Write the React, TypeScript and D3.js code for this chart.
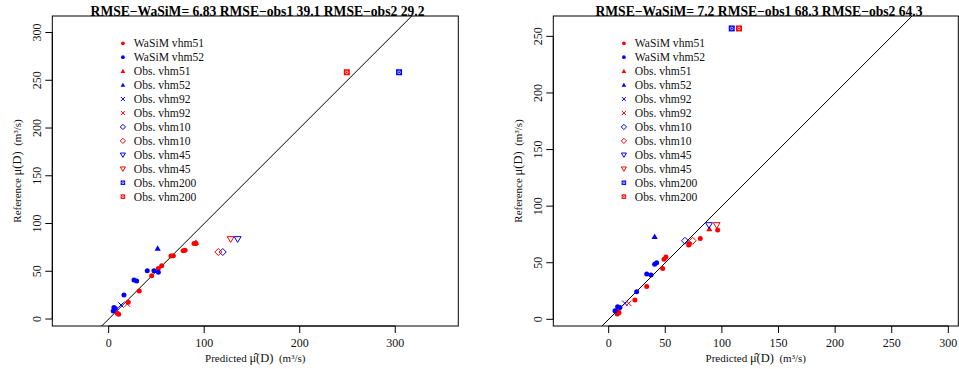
import React from 'react';
import * as d3 from 'd3';

// ---------- DATA ----------
const titles = [
  'RMSE\u2212WaSiM= 6.83 RMSE\u2212obs1 39.1 RMSE\u2212obs2 29.2',
  'RMSE\u2212WaSiM= 7.2 RMSE\u2212obs1 68.3 RMSE\u2212obs2 64.3',
];

const legendLabels = [
  'WaSiM vhm51', 'WaSiM vhm52', 'Obs. vhm51', 'Obs. vhm52', 'Obs. vhm92', 'Obs. vhm92',
  'Obs. vhm10', 'Obs. vhm10', 'Obs. vhm45', 'Obs. vhm45', 'Obs. vhm200', 'Obs. vhm200',
];
const legendShapes = [
  'circle', 'circle', 'triUp', 'triUp', 'cross', 'cross',
  'diamond', 'diamond', 'triDown', 'triDown', 'square', 'square',
];
const legendColors = [
  'red', 'blue', 'red', 'blue', 'blue', 'red', 'blue', 'red', 'blue', 'red', 'blue', 'red',
];

const leftXTicks = [0, 100, 200, 300];
const leftYTicks = [0, 50, 100, 150, 200, 250, 300];
const rightXTicks = [0, 50, 100, 150, 200, 250, 300];
const rightYTicks = [0, 50, 100, 150, 200, 250];

// Left panel series [predicted, reference]
const wasim51Left: [number, number][] = [
  [9, 6], [10.5, 5], [20.5, 17.5], [32, 29.3], [45, 45.4], [52, 53], [55.5, 55.8],
  [65.2, 66], [67.7, 66.3], [78, 71.5], [80, 72], [89.3, 79.2], [91.4, 79.2],
];
const wasim52Left: [number, number][] = [
  [4.8, 8.4], [5.5, 12.2], [7, 11], [16, 25.1], [26.5, 40.8], [29.3, 39.8],
  [40.4, 50.6], [47.4, 50.6], [52, 48.9],
];
const obs51Left: [number, number][] = [[91.4, 80.3]];
const obs52Left: [number, number][] = [[51.3, 74]];
const obs92BlueLeft: [number, number][] = [[12.9, 14.7]];
const obs92RedLeft: [number, number][] = [[19.5, 15.7]];
const obs10BlueLeft: [number, number][] = [[119.4, 70.2]];
const obs10RedLeft: [number, number][] = [[114.8, 70.2]];
const obs45BlueLeft: [number, number][] = [[135, 83.8]];
const obs45RedLeft: [number, number][] = [[127.7, 83.8]];
const obs200BlueLeft: [number, number][] = [[304, 258.4]];
const obs200RedLeft: [number, number][] = [[249.3, 258.4]];

// Right panel series
const wasim51Right: [number, number][] = [
  [7.6, 4.7], [9.1, 5.9], [8.5, 7], [23.2, 17], [33.6, 29.1], [47.7, 45], [48.9, 53],
  [50.6, 55], [70.7, 65.6], [71.3, 66.7], [80.9, 71.5], [96.3, 78.9],
];
const wasim52Right: [number, number][] = [
  [5.6, 7.6], [7.9, 11.1], [10, 10.5], [24.7, 24.4], [33.6, 40], [37.4, 39.1],
  [40.6, 48.6], [42.4, 50],
];
const obs51Right: [number, number][] = [[88.9, 79.8]];
const obs52Right: [number, number][] = [[40.6, 73]];
const obs92BlueRight: [number, number][] = [[14.4, 14.1]];
const obs92RedRight: [number, number][] = [[17.7, 14.1]];
const obs10BlueRight: [number, number][] = [[67.4, 69.4]];
const obs10RedRight: [number, number][] = [[74.2, 69.4]];
const obs45BlueRight: [number, number][] = [[88.6, 83.3]];
const obs45RedRight: [number, number][] = [[95.4, 83.3]];
const obs200BlueRight: [number, number][] = [[108.7, 257]];
const obs200RedRight: [number, number][] = [[115.1, 257]];

type Series = { pts: [number, number][]; shape: string; color: string };

const leftSeries: Series[] = [
  { pts: wasim51Left, shape: 'circle', color: 'red' },
  { pts: wasim52Left, shape: 'circle', color: 'blue' },
  { pts: obs51Left, shape: 'triUp', color: 'red' },
  { pts: obs52Left, shape: 'triUp', color: 'blue' },
  { pts: obs92BlueLeft, shape: 'cross', color: 'blue' },
  { pts: obs92RedLeft, shape: 'cross', color: 'red' },
  { pts: obs10BlueLeft, shape: 'diamond', color: 'blue' },
  { pts: obs10RedLeft, shape: 'diamond', color: 'red' },
  { pts: obs45BlueLeft, shape: 'triDown', color: 'blue' },
  { pts: obs45RedLeft, shape: 'triDown', color: 'red' },
  { pts: obs200BlueLeft, shape: 'square', color: 'blue' },
  { pts: obs200RedLeft, shape: 'square', color: 'red' },
];
const rightSeries: Series[] = [
  { pts: wasim51Right, shape: 'circle', color: 'red' },
  { pts: wasim52Right, shape: 'circle', color: 'blue' },
  { pts: obs51Right, shape: 'triUp', color: 'red' },
  { pts: obs52Right, shape: 'triUp', color: 'blue' },
  { pts: obs92BlueRight, shape: 'cross', color: 'blue' },
  { pts: obs92RedRight, shape: 'cross', color: 'red' },
  { pts: obs10BlueRight, shape: 'diamond', color: 'blue' },
  { pts: obs10RedRight, shape: 'diamond', color: 'red' },
  { pts: obs45BlueRight, shape: 'triDown', color: 'blue' },
  { pts: obs45RedRight, shape: 'triDown', color: 'red' },
  { pts: obs200BlueRight, shape: 'square', color: 'blue' },
  { pts: obs200RedRight, shape: 'square', color: 'red' },
];

const FONT = '"Liberation Serif", "DejaVu Serif", serif';

function Marker({ shape, color, x, y, k }: { shape: string; color: string; x: number; y: number; k: number }) {
  switch (shape) {
    case 'circle':
      return <circle cx={x} cy={y} r={2.5 * k} fill={color} />;
    case 'triUp': {
      const a = 3.1 * k;
      return <path d={`M${x},${y - a}L${x + a},${y + a * 0.75}L${x - a},${y + a * 0.75}Z`} fill={color} />;
    }
    case 'triDown': {
      const a = 3.4 * k;
      return (
        <path d={`M${x - a},${y - a * 0.7}L${x + a},${y - a * 0.7}L${x},${y + a}Z`}
          fill="none" stroke={color} strokeWidth={1} />
      );
    }
    case 'cross': {
      const a = 2.7 * k;
      return (
        <path d={`M${x - a},${y - a}L${x + a},${y + a}M${x - a},${y + a}L${x + a},${y - a}`}
          stroke={color} strokeWidth={1} fill="none" />
      );
    }
    case 'diamond': {
      const a = 3.5 * k;
      return (
        <path d={`M${x},${y - a}L${x + a},${y}L${x},${y + a}L${x - a},${y}Z`}
          fill="none" stroke={color} strokeWidth={1} />
      );
    }
    case 'square': {
      const a = 3 * k;
      return (
        <g>
          <rect x={x - a} y={y - a} width={2 * a} height={2 * a} fill={color} />
          <circle cx={x} cy={y} r={a * 0.45} fill="none" stroke="white" strokeWidth={0.7} />
        </g>
      );
    }
    default:
      return null;
  }
}

function Panel({
  box, xDomain, yDomain, xTicks, yTicks, series, title, titleX,
}: {
  box: { x0: number; x1: number; y0: number; y1: number };
  xDomain: [number, number]; yDomain: [number, number];
  xTicks: number[]; yTicks: number[]; series: Series[]; title: string; titleX: number;
}) {
  const xs = d3.scaleLinear().domain(xDomain).range([box.x0, box.x1]);
  const ys = d3.scaleLinear().domain(yDomain).range([box.y1, box.y0]);
  const clipId = `clip${Math.round(box.x0)}`;
  const lineGen = d3.line<[number, number]>().x((d) => xs(d[0])).y((d) => ys(d[1]));
  const lo = Math.min(xDomain[0], yDomain[0]);
  const hi = Math.max(xDomain[1], yDomain[1]);
  const midY = (box.y0 + box.y1) / 2;
  const midX = (box.x0 + box.x1) / 2;
  return (
    <g>
      <defs>
        <clipPath id={clipId}>
          <rect x={box.x0} y={box.y0} width={box.x1 - box.x0} height={box.y1 - box.y0} />
        </clipPath>
      </defs>
      <text x={titleX} y={15.5} textAnchor="middle" fontFamily={FONT} fontWeight="bold" fontSize={13.6} fill="#000">
        {title}
      </text>
      {/* legend */}
      {legendLabels.map((lab, i) => {
        const ly = 43.3 + i * 13.94;
        return (
          <g key={i}>
            <Marker shape={legendShapes[i]} color={legendColors[i]} x={box.x0 + 70.6} y={ly} k={0.75} />
            <text x={box.x0 + 81.5} y={ly + 4} fontFamily={FONT} fontSize={11.6} fill="#111">{lab}</text>
          </g>
        );
      })}
      {/* 1:1 line */}
      <path d={lineGen([[lo, lo], [hi, hi]]) || ''} stroke="#000" strokeWidth={1} fill="none" clipPath={`url(#${clipId})`} />
      {/* points */}
      <g clipPath={`url(#${clipId})`}>
        {series.map((s, si) =>
          s.pts.map((p, pi) => (
            <Marker key={`${si}-${pi}`} shape={s.shape} color={s.color} x={xs(p[0])} y={ys(p[1])} k={1} />
          ))
        )}
      </g>
      {/* box */}
      <rect x={box.x0} y={box.y0} width={box.x1 - box.x0} height={box.y1 - box.y0} fill="none" stroke="#000" strokeWidth={1} />
      {/* x axis */}
      <line x1={xs(xTicks[0])} x2={xs(xTicks[xTicks.length - 1])} y1={box.y1} y2={box.y1} stroke="#000" strokeWidth={1} />
      {xTicks.map((t) => (
        <g key={t}>
          <line x1={xs(t)} x2={xs(t)} y1={box.y1} y2={box.y1 + 7} stroke="#000" strokeWidth={1} />
          <text x={xs(t)} y={346.5} textAnchor="middle" fontFamily={FONT} fontSize={12} fill="#111">{t}</text>
        </g>
      ))}
      {/* y axis */}
      <line x1={box.x0} x2={box.x0} y1={ys(yTicks[0])} y2={ys(yTicks[yTicks.length - 1])} stroke="#000" strokeWidth={1} />
      {yTicks.map((t) => (
        <g key={t}>
          <line x1={box.x0 - 7} x2={box.x0} y1={ys(t)} y2={ys(t)} stroke="#000" strokeWidth={1} />
          <text transform={`translate(${box.x0 - 11.5},${ys(t)}) rotate(-90)`} textAnchor="middle"
            fontFamily={FONT} fontSize={12} fill="#111">{t}</text>
        </g>
      ))}
      {/* axis titles */}
      <text x={midX} y={362} textAnchor="middle" fontFamily={FONT} fontSize={11} fill="#111">
        <tspan>Predicted </tspan>
        <tspan fontSize={12.5}>{'\u03BC\u0302(D)'}</tspan>
        <tspan>{'\u00A0\u00A0(m\u00B3/s)'}</tspan>
      </text>
      <text transform={`translate(${box.x0 - 31},${midY}) rotate(-90)`} textAnchor="middle" fontFamily={FONT} fontSize={11} fill="#111">
        <tspan>Reference </tspan>
        <tspan fontSize={12.5}>{'\u03BC(D)'}</tspan>
        <tspan>{'\u00A0\u00A0(m\u00B3/s)'}</tspan>
      </text>
    </g>
  );
}

export default function App() {
  return (
    <svg width={959} height={369} style={{ position: 'absolute', left: 0, top: 0, background: '#fff' }}>
      <rect x={0} y={0} width={959} height={369} fill="#fff" />
      <Panel
        box={{ x0: 52.3, x1: 458.3, y0: 16, y1: 326 }}
        xDomain={[-59, 366]} yDomain={[-7.3, 317.3]}
        xTicks={leftXTicks} yTicks={leftYTicks} series={leftSeries}
        title={titles[0]} titleX={257.5}
      />
      <Panel
        box={{ x0: 553.3, x1: 958.3, y0: 16, y1: 326 }}
        xDomain={[-48.9, 308.8]} yDomain={[-5.9, 268]}
        xTicks={rightXTicks} yTicks={rightYTicks} series={rightSeries}
        title={titles[1]} titleX={759}
      />
    </svg>
  );
}
